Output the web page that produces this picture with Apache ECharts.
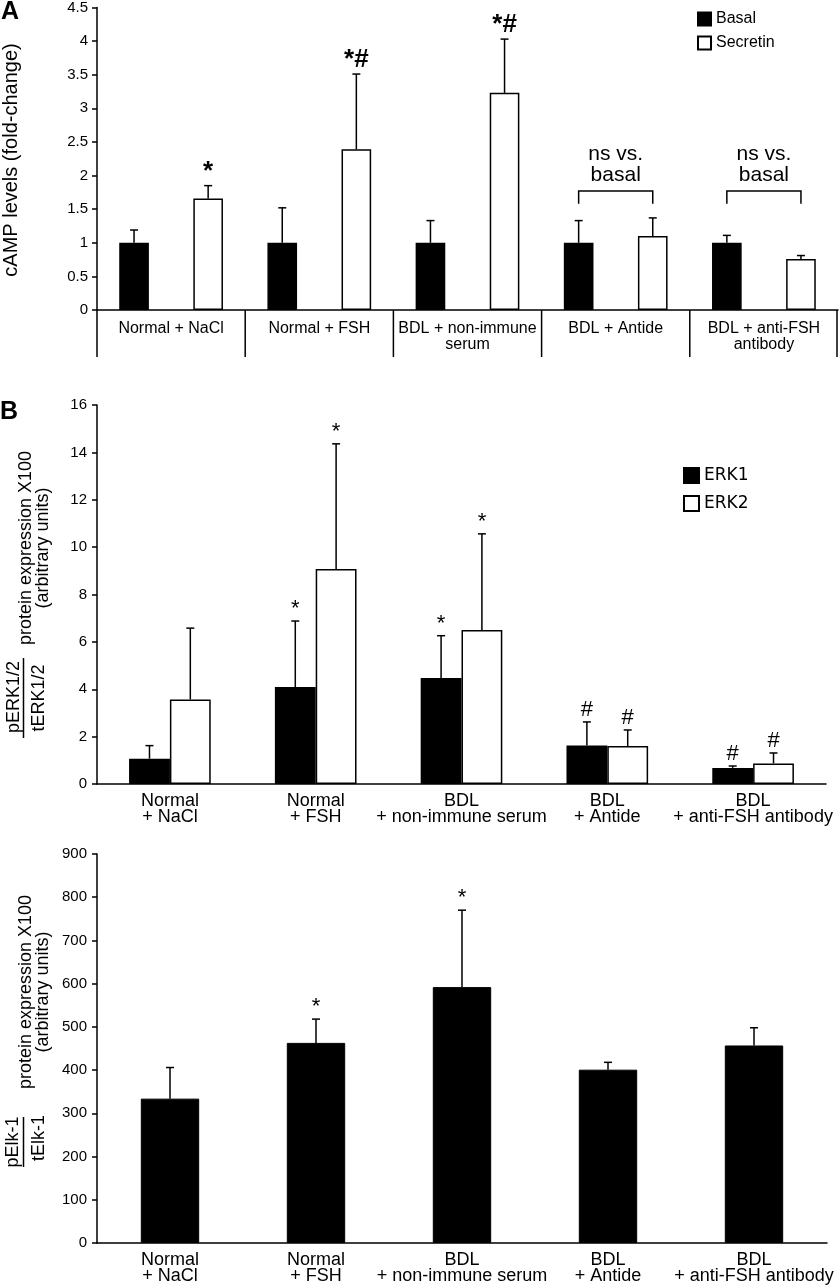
<!DOCTYPE html>
<html><head><meta charset="utf-8">
<script src="https://cdn.jsdelivr.net/npm/echarts@6/dist/echarts.min.js"></script>
<style>html,body{margin:0;padding:0;background:#fff}#c{width:840px;height:1288px}</style>
</head><body><div id="c"></div>
<script>
// ---------- DATA ----------
const catsA = ['Normal + NaCl', 'Normal + FSH', 'BDL + non-immune\nserum', 'BDL + Antide', 'BDL + anti-FSH\nantibody'];
const basal = [1, 1, 1, 1, 1];
const basalErr = [1.19, 1.52, 1.33, 1.33, 1.11];
const secretin = [1.66, 2.39, 3.23, 1.10, 0.76];
const secretinErr = [1.85, 3.51, 4.03, 1.37, 0.81];
const secretinSig = ['*', '*#', '*#', '', ''];
const basalSig = ['', '', '', '', ''];
const nsGroups = [3, 4];
const nsBracket = [1.77, 1.58]; // bracket bar level, leg end level
const nsText = 'ns vs.\nbasal';

const catsB = ['Normal\n+ NaCl', 'Normal\n+ FSH', 'BDL\n+ non-immune serum', 'BDL\n+ Antide', 'BDL\n+ anti-FSH antibody'];
const erk1 = [1.07, 4.09, 4.47, 1.63, 0.68];
const erk1Err = [1.62, 6.88, 6.26, 2.62, 0.76];
const erk1Sig = ['', '*', '*', '#', '#'];
const erk2 = [3.57, 9.08, 6.50, 1.60, 0.87];
const erk2Err = [6.58, 14.36, 10.56, 2.28, 1.31];
const erk2Sig = ['', '*', '*', '#', '#'];

const elk = [334, 463, 592, 401, 457];
const elkErr = [406, 518, 770, 418, 498];
const elkSig = ['', '*', '*', '', ''];

// ---------- STYLE ----------
const F = 'Liberation Sans, Arial, Helvetica, sans-serif';
const chart = echarts.init(document.getElementById('c'), null, {renderer: 'canvas'});

function errSeries(name, xi, vals, errs, sigs, offFrac, sigStyle) {
  return {
    type: 'custom', name: name, xAxisIndex: xi, yAxisIndex: xi, silent: true, z: 5,
    data: vals.map((v, i) => [i, v, errs[i]]),
    renderItem: function (params, api) {
      const i = api.value(0);
      const p0 = api.coord([i, api.value(1)]);
      const p1 = api.coord([i, api.value(2)]);
      const bw = api.size([1, 0])[0];
      const x = p0[0] + offFrac * bw;
      const ch = [
        {type: 'line', shape: {x1: x, y1: p0[1], x2: x, y2: p1[1]}, style: {stroke: '#000', lineWidth: 1.5}},
        {type: 'line', shape: {x1: x - 4, y1: p1[1], x2: x + 4, y2: p1[1]}, style: {stroke: '#000', lineWidth: 1.5}}
      ];
      const s = sigs[params.dataIndex];
      if (s) {
        ch.push({type: 'text', x: x, y: p1[1] - sigStyle.gap,
          style: {text: s, fill: '#000', font: sigStyle.font, align: 'center', verticalAlign: 'bottom'}});
      }
      return {type: 'group', children: ch};
    }
  };
}

const axisLineStyle = {color: '#000', width: 1.5};

const option = {
  backgroundColor: '#fff',
  animation: false,
  textStyle: {fontFamily: F, color: '#000'},
  grid: [
    {left: 97, right: 2, top: 5, height: 305},
    {left: 97, right: 14, top: 405, height: 379},
    {left: 97, right: 13, top: 854, height: 389}
  ],
  legend: [
    {data: ['Basal', 'Secretin'], orient: 'vertical', left: 692, top: 6, itemWidth: 13, itemHeight: 13, itemGap: 8,
     textStyle: {fontFamily: F, fontSize: 16, color: '#000'}, selectedMode: false, icon: 'rect'},
    {data: ['ERK1', 'ERK2'], orient: 'vertical', left: 678, top: 462, itemWidth: 15, itemHeight: 15, itemGap: 11,
     textStyle: {fontFamily: 'DejaVu Sans, sans-serif', fontSize: 17, color: '#000'}, selectedMode: false, icon: 'rect'}
  ],
  xAxis: [
    {type: 'category', gridIndex: 0, data: catsA, position: 'bottom',
     axisLine: {lineStyle: axisLineStyle}, axisTick: {alignWithLabel: true, length: 4, lineStyle: axisLineStyle},
     axisLabel: {fontSize: 16, color: '#000', margin: 11, lineHeight: 16, interval: 0}},
    {type: 'category', gridIndex: 1, data: catsB, position: 'bottom',
     axisLine: {lineStyle: axisLineStyle}, axisTick: {length: 5, lineStyle: axisLineStyle},
     axisLabel: {fontSize: 18, color: '#000', margin: 9, lineHeight: 16, interval: 0}},
    {type: 'category', gridIndex: 2, data: catsB, position: 'bottom',
     axisLine: {lineStyle: axisLineStyle}, axisTick: {length: 5, lineStyle: axisLineStyle},
     axisLabel: {fontSize: 18, color: '#000', margin: 9, lineHeight: 16, interval: 0}}
  ],
  yAxis: [
    {type: 'value', gridIndex: 0, min: 0, max: 4.5, interval: 0.5, splitLine: {show: false},
     axisLine: {show: true, lineStyle: axisLineStyle}, axisTick: {show: true, length: 5, lineStyle: axisLineStyle},
     axisLabel: {fontSize: 15, color: '#000', margin: 9}},
    {type: 'value', gridIndex: 1, min: 0, max: 16, interval: 2, splitLine: {show: false},
     axisLine: {show: true, lineStyle: axisLineStyle}, axisTick: {show: true, length: 5, lineStyle: axisLineStyle},
     axisLabel: {fontSize: 15, color: '#000', margin: 10}},
    {type: 'value', gridIndex: 2, min: 0, max: 900, interval: 100, splitLine: {show: false},
     axisLine: {show: true, lineStyle: axisLineStyle}, axisTick: {show: true, length: 5, lineStyle: axisLineStyle},
     axisLabel: {fontSize: 15, color: '#000', margin: 10}}
  ],
  series: [
    {type: 'bar', name: 'Basal', xAxisIndex: 0, yAxisIndex: 0, data: basal, barWidth: '20%', barGap: '150%',
     itemStyle: {color: '#000', borderColor: '#000', borderWidth: 1.5}},
    {type: 'bar', name: 'Secretin', xAxisIndex: 0, yAxisIndex: 0, data: secretin, barWidth: '20%', barGap: '150%',
     itemStyle: {color: '#fff', borderColor: '#000', borderWidth: 1.5}},
    errSeries('basalErr', 0, basal, basalErr, basalSig, -0.25, {gap: 1, font: 'bold 26px ' + F}),
    errSeries('secretinErr', 0, secretin, secretinErr, secretinSig, 0.25, {gap: 1, font: 'bold 26px ' + F}),
    // group separators below panel A axis
    {type: 'custom', name: 'separators', xAxisIndex: 0, yAxisIndex: 0, silent: true, clip: false, z: 4,
     data: catsA.map((c, i) => [i, 0]),
     renderItem: function (params, api) {
       const i = api.value(0);
       const p = api.coord([i, 0]);
       const bw = api.size([1, 0])[0];
       const ch = [{type: 'line', shape: {x1: p[0] - bw / 2, y1: p[1], x2: p[0] - bw / 2, y2: p[1] + 47},
                    style: {stroke: '#000', lineWidth: 1.5}}];
       if (params.dataIndex === catsA.length - 1) {
         ch.push({type: 'line', shape: {x1: p[0] + bw / 2 - 1, y1: p[1], x2: p[0] + bw / 2 - 1, y2: p[1] + 47},
                  style: {stroke: '#000', lineWidth: 1.5}});
       }
       return {type: 'group', children: ch};
     }},
    {type: 'custom', name: 'ns', xAxisIndex: 0, yAxisIndex: 0, silent: true, z: 6,
     data: nsGroups.map(g => [g, nsBracket[0], nsBracket[1]]),
     renderItem: function (params, api) {
       const i = api.value(0);
       const top = api.coord([i, api.value(1)]);
       const leg = api.coord([i, api.value(2)]);
       const bw = api.size([1, 0])[0];
       const xa = top[0] - 0.25 * bw, xb = top[0] + 0.25 * bw;
       return {type: 'group', children: [
         {type: 'polyline', shape: {points: [[xa, leg[1]], [xa, top[1]], [xb, top[1]], [xb, leg[1]]]},
          style: {stroke: '#000', lineWidth: 1.5, fill: null}},
         {type: 'text', x: top[0], y: top[1] - 5,
          style: {text: nsText, font: '21px ' + F, fill: '#000', align: 'center', verticalAlign: 'bottom', lineHeight: 21}}
       ]};
     }},
    {type: 'bar', name: 'ERK1', xAxisIndex: 1, yAxisIndex: 1, data: erk1, barWidth: '28%', barGap: '0%',
     itemStyle: {color: '#000', borderColor: '#000', borderWidth: 1.5}},
    {type: 'bar', name: 'ERK2', xAxisIndex: 1, yAxisIndex: 1, data: erk2, barWidth: '28%', barGap: '0%',
     itemStyle: {color: '#fff', borderColor: '#000', borderWidth: 1.5}},
    errSeries('erk1Err', 1, erk1, erk1Err, erk1Sig, -0.14, {gap: 1, font: '22px ' + F}),
    errSeries('erk2Err', 1, erk2, erk2Err, erk2Sig, 0.14, {gap: 1, font: '22px ' + F}),
    {type: 'bar', name: 'pElk-1', xAxisIndex: 2, yAxisIndex: 2, data: elk, barWidth: '40%',
     itemStyle: {color: '#000', borderColor: '#000', borderWidth: 1}},
    errSeries('elkErr', 2, elk, elkErr, elkSig, 0, {gap: 1, font: '22px ' + F})
  ],
  graphic: [
    {type: 'text', left: 1, top: 0, style: {text: 'A', font: 'bold 25px ' + F, fill: '#000'}},
    {type: 'text', left: 0, top: 400, style: {text: 'B', font: 'bold 25px ' + F, fill: '#000'}},
    {type: 'text', x: 11, y: 160, rotation: Math.PI / 2,
     style: {text: 'cAMP levels (fold-change)', font: '20px ' + F, fill: '#000', align: 'center', verticalAlign: 'middle'}},
    // panel B title
    {type: 'text', x: 14, y: 697, rotation: Math.PI / 2,
     style: {text: 'pERK1/2', font: '18px ' + F, fill: '#000', align: 'center', verticalAlign: 'middle'}},
    {type: 'line', shape: {x1: 23.5, y1: 658, x2: 23.5, y2: 738}, style: {stroke: '#000', lineWidth: 1.5}},
    {type: 'text', x: 39, y: 698, rotation: Math.PI / 2,
     style: {text: 'tERK1/2', font: '18px ' + F, fill: '#000', align: 'center', verticalAlign: 'middle'}},
    {type: 'text', x: 26, y: 548, rotation: Math.PI / 2,
     style: {text: 'protein expression X100', font: '18px ' + F, fill: '#000', align: 'center', verticalAlign: 'middle'}},
    {type: 'text', x: 43, y: 548, rotation: Math.PI / 2,
     style: {text: '(arbitrary units)', font: '18px ' + F, fill: '#000', align: 'center', verticalAlign: 'middle'}},
    // panel C title
    {type: 'text', x: 13, y: 1142, rotation: Math.PI / 2,
     style: {text: 'pElk-1', font: '18px ' + F, fill: '#000', align: 'center', verticalAlign: 'middle'}},
    {type: 'line', shape: {x1: 23.5, y1: 1117, x2: 23.5, y2: 1167}, style: {stroke: '#000', lineWidth: 1.5}},
    {type: 'text', x: 39, y: 1138, rotation: Math.PI / 2,
     style: {text: 'tElk-1', font: '18px ' + F, fill: '#000', align: 'center', verticalAlign: 'middle'}},
    {type: 'text', x: 26, y: 992, rotation: Math.PI / 2,
     style: {text: 'protein expression X100', font: '18px ' + F, fill: '#000', align: 'center', verticalAlign: 'middle'}},
    {type: 'text', x: 43, y: 992, rotation: Math.PI / 2,
     style: {text: '(arbitrary units)', font: '18px ' + F, fill: '#000', align: 'center', verticalAlign: 'middle'}}
  ]
};
chart.setOption(option);
</script>
</body></html>
